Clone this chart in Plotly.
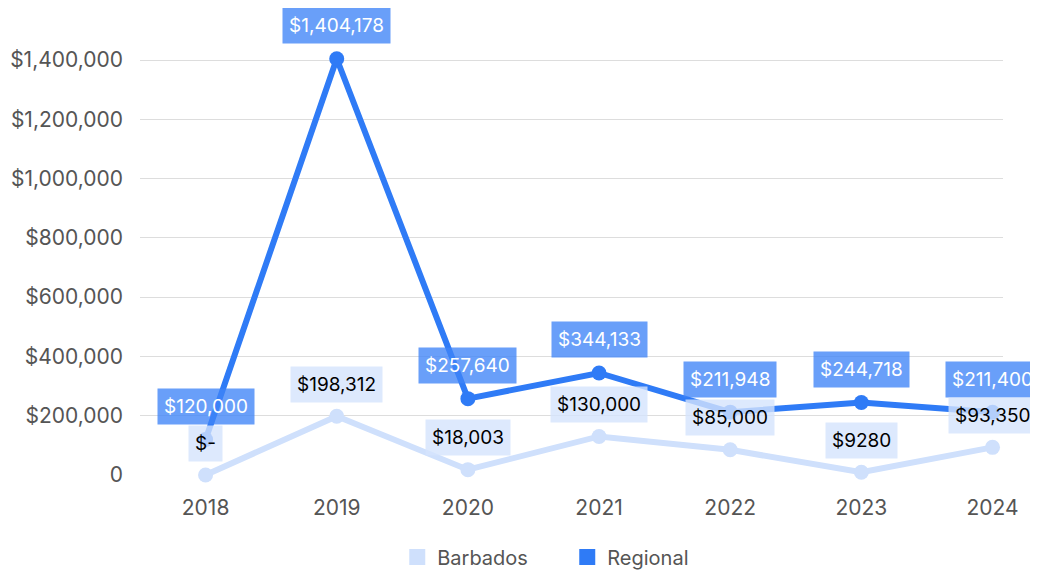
import plotly.graph_objects as go

years = ["2018", "2019", "2020", "2021", "2022", "2023", "2024"]
barbados = [0, 198312, 18003, 130000, 85000, 9280, 93350]
barbados_labels = ["$-", "$198,312", "$18,003", "$130,000", "$85,000", "$9280", "$93,350"]
regional = [120000, 1404178, 257640, 344133, 211948, 244718, 211400]
regional_labels = ["$120,000", "$1,404,178", "$257,640", "$344,133", "$211,948", "$244,718", "$211,400"]
y_ticks = [0, 200000, 400000, 600000, 800000, 1000000, 1200000, 1400000]
y_tick_text = ["0", "$200,000", "$400,000", "$600,000", "$800,000", "$1,000,000", "$1,200,000", "$1,400,000"]

C_BAR = "#cfe0fc"
C_REG = "#2f7bf6"
FONT = "Inter"

xs = list(range(len(years)))
fig = go.Figure()
fig.add_trace(go.Scatter(x=xs, y=barbados, mode="lines+markers", name="Barbados",
                         line=dict(color=C_BAR, width=6), marker=dict(color=C_BAR, size=15),
                         showlegend=False, cliponaxis=False))
fig.add_trace(go.Scatter(x=xs, y=regional, mode="lines+markers", name="Regional",
                         line=dict(color=C_REG, width=6), marker=dict(color=C_REG, size=15),
                         showlegend=False, cliponaxis=False))
# legend entries
fig.add_trace(go.Scatter(x=[None], y=[None], mode="markers", name="Barbados",
                         marker=dict(color=C_BAR, size=17, symbol="square")))
fig.add_trace(go.Scatter(x=[None], y=[None], mode="markers", name="Regional",
                         marker=dict(color=C_REG, size=17, symbol="square")))

ann = []
for x, v, t in zip(xs, regional, regional_labels):
    ann.append(dict(x=x, y=v, text=t, showarrow=False, yshift=33,
                    bgcolor="rgba(63,132,247,0.78)", borderpad=6,
                    font=dict(family=FONT, size=19, color="white")))
for x, v, t in zip(xs, barbados, barbados_labels):
    ann.append(dict(x=x, y=v, text=t, showarrow=False, yshift=32,
                    bgcolor="rgba(212,228,253,0.8)", borderpad=6,
                    font=dict(family=FONT, size=19, color="black")))

# plot top at 12px, 0 at 467px, 1.4M at 52px (figure coords)
y_max = 1400000 * (467 - 12) / (467 - 52)

fig.update_layout(
    width=1038, height=570,
    margin=dict(l=132, r=43, t=12, b=103, autoexpand=False),
    paper_bgcolor="white", plot_bgcolor="white",
    font=dict(family=FONT, size=21, color="#555555"),
    annotations=ann,
    legend=dict(orientation="h", xref="container", x=0.375, xanchor="left",
                yref="container", y=0.037, yanchor="middle",
                font=dict(family=FONT, size=20, color="#555555"), itemwidth=30,
                entrywidth=125, entrywidthmode="pixels",
                tracegroupgap=0),
    showlegend=True,
)
fig.update_xaxes(range=[-0.5, 6.08], tickvals=xs, ticktext=years, showgrid=False,
                 zeroline=False, showline=False, ticks="", ticklabelstandoff=18,
                 automargin=False,
                 tickfont=dict(family=FONT, size=21, color="#555555"))
fig.update_yaxes(range=[0, y_max], tickvals=y_ticks, ticktext=y_tick_text,
                 showgrid=True, gridcolor="#dddddd", gridwidth=1, zeroline=False,
                 showline=False, ticks="", ticklabelstandoff=16, automargin=False,
                 tickfont=dict(family=FONT, size=21, color="#555555"))

fig.write_html("out.html")
